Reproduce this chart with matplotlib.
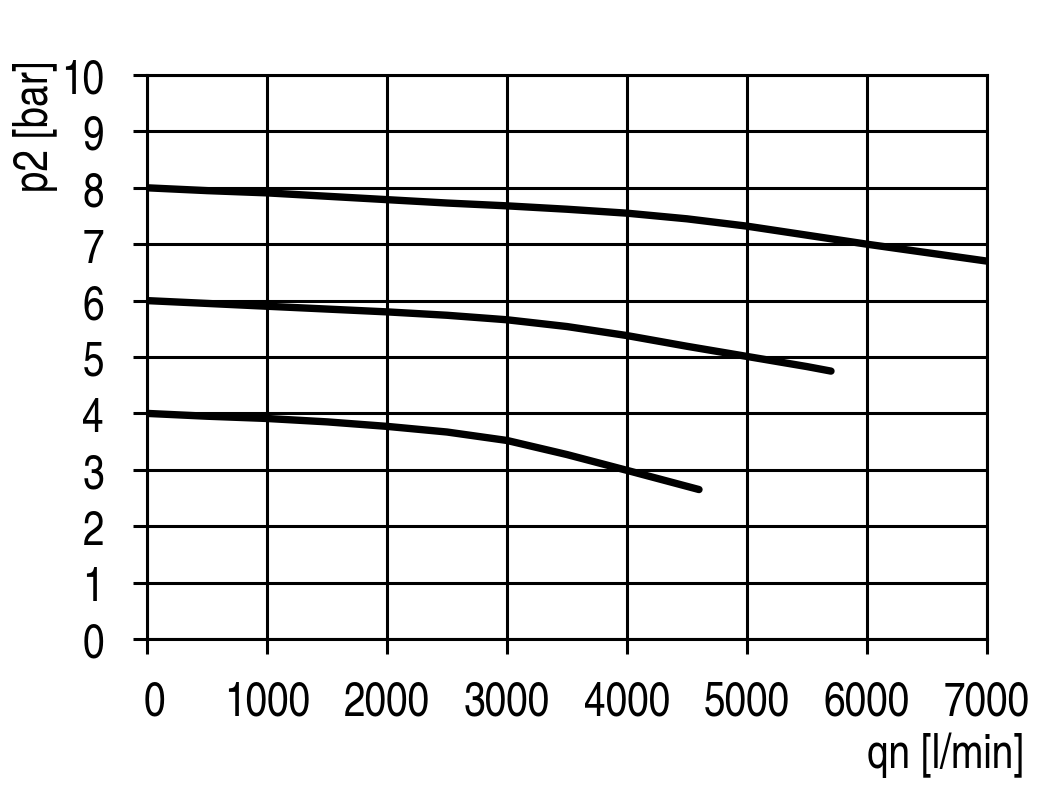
import matplotlib
matplotlib.use("Agg")
import matplotlib.pyplot as plt
from matplotlib import font_manager
from matplotlib.transforms import ScaledTranslation

fams = {f.name for f in font_manager.fontManager.ttflist}
FONT = next((f for f in ["TeX Gyre Heros Cn", "Liberation Sans Narrow", "Archivo Narrow", "Liberation Sans"] if f in fams), "DejaVu Sans")
plt.rcParams['font.family'] = [FONT, 'DejaVu Sans']

# Data
x_tick_labels = [0, 1000, 2000, 3000, 4000, 5000, 6000, 7000]
y_tick_labels = [0, 1, 2, 3, 4, 5, 6, 7, 8, 9, 10]

q_p8 = [0, 500, 1000, 1500, 2000, 2500, 3000, 3500, 4000, 4500, 5000, 5500, 6000, 6500, 7000]
p_p8 = [8.0, 7.95, 7.91, 7.85, 7.79, 7.73, 7.68, 7.62, 7.55, 7.45, 7.32, 7.16, 7.0, 6.85, 6.70]

q_p6 = [0, 500, 1000, 1500, 2000, 2500, 3000, 3500, 4000, 4500, 5000, 5500, 5700]
p_p6 = [6.0, 5.95, 5.9, 5.85, 5.8, 5.74, 5.66, 5.54, 5.38, 5.19, 5.01, 4.83, 4.75]

q_p4 = [0, 500, 1000, 1500, 2000, 2500, 3000, 3500, 4000, 4600]
p_p4 = [4.0, 3.95, 3.91, 3.85, 3.77, 3.67, 3.52, 3.27, 2.99, 2.65]

fig = plt.figure(figsize=(10.51, 8.03), dpi=100)
W, H = 1051, 803
ax = fig.add_axes([147 / W, 1 - 640 / H, (987 - 147) / W, (640 - 76) / H])

for q, p in [(q_p8, p_p8), (q_p6, p_p6), (q_p4, p_p4)]:
    ax.plot(q, p, color='black', lw=5.3, solid_capstyle='round', solid_joinstyle='round', zorder=3)

ax.set_xlim(0, 7000)
ax.set_ylim(0, 10)
ax.set_xticks(x_tick_labels)
ax.set_yticks(y_tick_labels)
ax.set_xticklabels([str(v) for v in x_tick_labels])
ax.set_yticklabels([str(v) for v in y_tick_labels])
ax.grid(True, color='black', lw=2.2)
ax.set_axisbelow(True)
for s in ax.spines.values():
    s.set_linewidth(2.2)
    s.set_color('black')

ax.tick_params(axis='x', length=11, width=2.2, pad=18, labelsize=34, colors='black')
ax.tick_params(axis='y', length=10, width=2.2, pad=21, labelsize=34, colors='black')

first = ax.get_xticklabels()[0]
first.set_transform(first.get_transform() + ScaledTranslation(7 / 100, 0, fig.dpi_scale_trans))

fig.text(36 / W, 1 - 61 / H, "p2 [bar]", rotation=90, va='top', ha='center', fontsize=34)
fig.text(1024 / W, 1 - 768 / H, "qn [l/min]", ha='right', va='baseline', fontsize=34)

fig.savefig("out.png", dpi=100, facecolor='white')
